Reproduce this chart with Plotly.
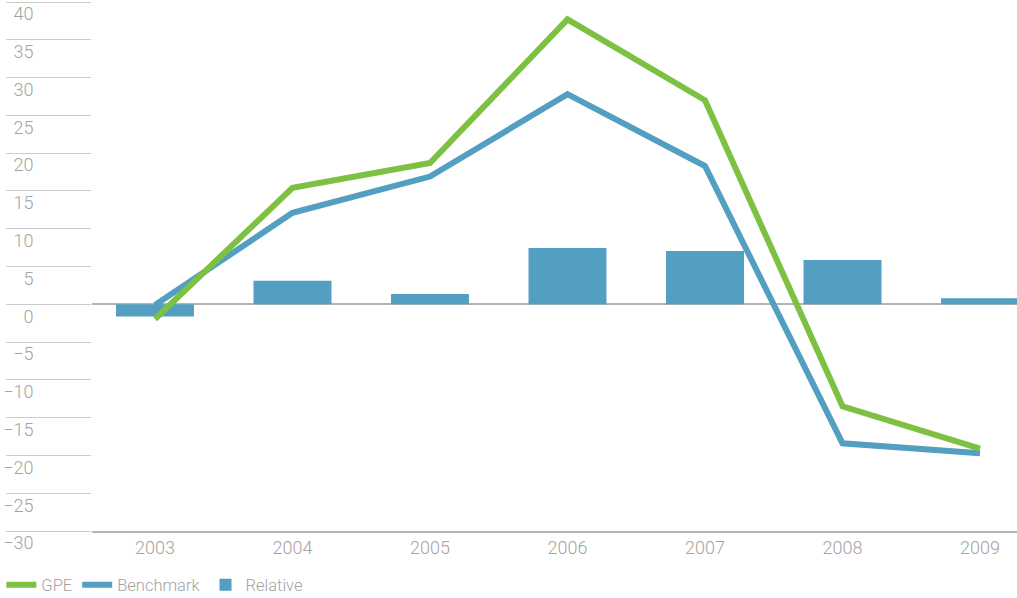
import plotly.graph_objects as go

years = ["2003", "2004", "2005", "2006", "2007", "2008", "2009"]
gpe = [-1.95, 15.4, 18.7, 37.7, 27.0, -13.5, -19.1]
benchmark = [-0.1, 12.1, 16.9, 27.8, 18.3, -18.4, -19.7]
relative = [-1.6, 3.1, 1.35, 7.45, 7.05, 5.85, 0.8]
y_ticks = [40, 35, 30, 25, 20, 15, 10, 5, 0, -5, -10, -15, -20, -25, -30]

GREEN = "#7CC142"
BLUE = "#539FC1"
GREY_TXT = "#a3a3a3"
FONT = "Roboto"

fig = go.Figure()
fig.add_trace(go.Bar(x=years, y=relative, name="Relative", marker=dict(color=BLUE, line=dict(width=0)),
                     width=0.567, legendrank=3))
fig.add_trace(go.Scatter(x=years, y=benchmark, name="Benchmark", mode="lines",
                         line=dict(color=BLUE, width=6), legendrank=2))
fig.add_trace(go.Scatter(x=years, y=gpe, name="GPE", mode="lines",
                         line=dict(color=GREEN, width=6), legendrank=1))

fig.update_layout(
    width=1017, height=598,
    margin=dict(l=92, r=0, t=2, b=67, autoexpand=False),
    plot_bgcolor="white", paper_bgcolor="white",
    font=dict(family=FONT, size=18, color=GREY_TXT, weight=300),
    showlegend=True,
    legend=dict(orientation="h", x=-0.098, xanchor="left",
                yref="container", y=1 - 585 / 598, yanchor="middle",
                font=dict(family=FONT, size=16.5, color=GREY_TXT, weight=300),
                itemwidth=30, tracegroupgap=0, bgcolor="rgba(0,0,0,0)"),
)
fig.update_xaxes(type="category", range=[-0.458, 6.269], showgrid=False, showline=True,
                 linecolor="#b4b4b4", linewidth=1.5, ticks="", zeroline=False,
                 tickfont=dict(family=FONT, size=18, color=GREY_TXT, weight=300))
fig.update_yaxes(range=[-30, 40], tickvals=y_ticks, showgrid=False, zeroline=True,
                 zerolinecolor="#b4b4b4", zerolinewidth=1.5, showline=False,
                 ticks="outside", ticklen=85, tickcolor="#cccccc", tickwidth=1,
                 ticklabelshift=12, ticklabelstandoff=-31,
                 tickfont=dict(family=FONT, size=18, color=GREY_TXT, weight=300))

fig.write_html("out.html")
